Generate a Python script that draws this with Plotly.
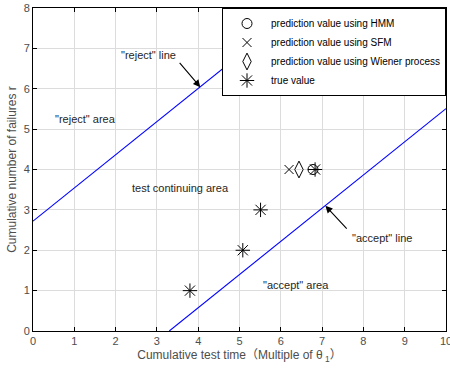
import plotly.graph_objects as go

# Data
slope = 0.822
reject_intercept = 2.72
accept_x0 = 3.30
reject_x = [0.0, (8 - reject_intercept) / slope]
reject_y = [reject_intercept, 8.0]
accept_x = [accept_x0, 10.0]
accept_y = [0.0, slope * (10.0 - accept_x0)]

hmm_x, hmm_y = [6.78], [4]
sfm_x, sfm_y = [6.20], [4]
wiener_x, wiener_y = [6.44], [4]
true_x = [3.80, 5.08, 5.51, 6.83]
true_y = [1, 2, 3, 4]

xticks = list(range(0, 11))
yticks = list(range(0, 9))

font_family = "Liberation Sans, Arial, Noto Sans CJK SC, sans-serif"

fig = go.Figure()
fig.add_trace(go.Scatter(x=reject_x, y=reject_y, mode="lines",
                         line=dict(color="#0000ff", width=1.1), showlegend=False))
fig.add_trace(go.Scatter(x=accept_x, y=accept_y, mode="lines",
                         line=dict(color="#0000ff", width=1.1), showlegend=False))

mk_line = dict(color="black", width=1)
fig.add_trace(go.Scatter(x=hmm_x, y=hmm_y, mode="markers", name="prediction value using HMM",
                         marker=dict(symbol="circle-open", size=10, color="black", line=mk_line)))
fig.add_trace(go.Scatter(x=sfm_x, y=sfm_y, mode="markers", name="prediction value using SFM",
                         marker=dict(symbol="x-thin-open", size=9, color="black", line=mk_line)))
fig.add_trace(go.Scatter(x=wiener_x, y=wiener_y, mode="markers", name="prediction value using Wiener process",
                         marker=dict(symbol="diamond-tall-open", size=12, color="black", line=mk_line)))
fig.add_trace(go.Scatter(x=true_x, y=true_y, mode="markers", name="true value",
                         marker=dict(symbol="asterisk-open", size=12, color="black", line=mk_line)))

ann_font = dict(family=font_family, size=11, color="#262626")
annotations = [
    dict(x=2.79, y=6.84, text='"reject" line', showarrow=False, font=ann_font),
    dict(x=1.27, y=5.26, text='"reject" area', showarrow=False, font=ann_font),
    dict(x=3.57, y=3.55, text='test continuing area', showarrow=False, font=ann_font),
    dict(x=8.45, y=2.31, text='"accept" line', showarrow=False, font=ann_font),
    dict(x=6.37, y=1.15, text='"accept" area', showarrow=False, font=ann_font),
    dict(x=4.05, y=6.04, ax=3.52, ay=6.68, xref="x", yref="y", axref="x", ayref="y",
         text="", showarrow=True, arrowhead=2, arrowsize=1.3, arrowwidth=1.1, arrowcolor="black"),
    dict(x=7.08, y=3.10, ax=7.63, ay=2.50, xref="x", yref="y", axref="x", ayref="y",
         text="", showarrow=True, arrowhead=2, arrowsize=1.3, arrowwidth=1.1, arrowcolor="black"),
]

axis_common = dict(showgrid=True, gridcolor="#dcdcdc", gridwidth=1,
                   showline=True, linecolor="black", linewidth=1, mirror="ticks",
                   ticks="inside", ticklen=4, tickcolor="black", zeroline=False,
                   ticklabeloverflow="allow", automargin=False,
                   tickfont=dict(family=font_family, size=11, color="#4d4d4d"))

fig.update_layout(
    width=450, height=373,
    margin=dict(l=33, r=4, t=8, b=42),
    paper_bgcolor="white", plot_bgcolor="white",
    font=dict(family=font_family, size=11, color="#262626"),
    xaxis=dict(range=[0, 10], tickvals=xticks, **axis_common,
               title=dict(text="Cumulative test time（Multiple of θ<sub> 1</sub>）",
                          font=dict(size=12, color="#4d4d4d"), standoff=4)),
    yaxis=dict(range=[0, 8], tickvals=yticks, **axis_common,
               title=dict(text="Cumulative number of failures r",
                          font=dict(size=12, color="#4d4d4d"), standoff=4)),
    legend=dict(x=1, y=1, xanchor="right", yanchor="top", bgcolor="white",
                bordercolor="black", borderwidth=1,
                font=dict(family=font_family, size=10, color="black"),
                tracegroupgap=0, itemsizing="trace", itemwidth=38),
    annotations=annotations,
    showlegend=True,
)

fig.write_html("out.html")
